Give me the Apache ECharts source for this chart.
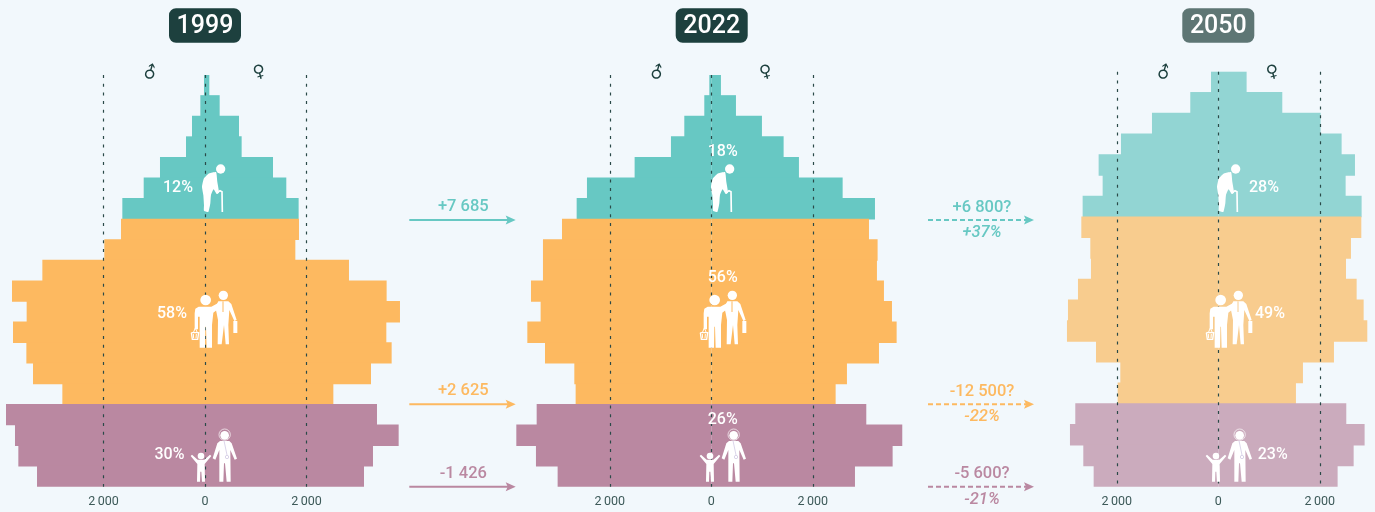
<!DOCTYPE html>
<html lang="en">
<head>
    <meta charset="UTF-8">
    <title>Pyramides</title>
    <script src="https://cdn.jsdelivr.net/npm/echarts@6/dist/echarts.min.js"></script>
    <style>
html,body{
    margin:0;
    padding:0;
    background:#f2f8fc;
}
#main{
    width:1375px;
    height:512px;
}
    </style>
</head>
<body>
<div id="main"></div>
<script type="text/javascript">
    // age groups, top of the pyramid first
    var ages = ['95-99','90-94','85-89','80-84','75-79','70-74','65-69','60-64','55-59','50-54','45-49','40-44','35-39','30-34','25-29','20-24','15-19','10-14','5-9','0-4'];
    var male1999 = [20,92,256,374,887,1208,1629,1655,1984,3205,3803,3514,3783,3520,3389,2811,3921,3744,3678,3310];
    var female1999 = [85,289,670,722,1340,1602,1845,1852,1780,2837,3579,3842,3573,3678,3271,2529,3389,3816,3310,3133];
    var male2022 = [39,138,532,795,1511,2450,2653,2942,3317,3317,3553,3363,3625,3277,2699,2673,3441,3842,3455,3028];
    var female2022 = [190,486,998,1425,1727,2588,3225,3107,3277,3264,3402,3560,3652,3304,2673,2450,3054,3763,3573,2831];
    var male2050 = [144,552,1307,1918,2358,2279,2673,2699,2522,2509,2765,2962,2982,2410,1931,1983,2818,2923,2660,2456];
    var female2050 = [558,1261,2016,2430,2693,2509,2824,2818,2614,2516,2726,2864,2936,2279,1668,1530,2522,2883,2667,2351];
    var tickLabels = {'-2000':'2\u2009000', '0':'0', '2000':'2\u2009000'};
    var years = ['1999','2022','2050'];
    var shares = [['12%','58%','30%'],['18%','56%','26%'],['28%','49%','23%']];
    var changes = ['+7 685','+2 625','-1 426'];
    var forecasts = ['+6 800?','-12 500?','-5 600?'];
    var forecastPct = ['+37%','-22%','-21%'];

    var bg = '#f2f8fc';
    var dark = '#1d403e';
    var teal = '#67c8c3', orange = '#fdb960', purple = '#ba88a1';
    var teal2 = '#92d5d3', orange2 = '#f8cc8e', purple2 = '#cbabbd';

    // one block per pyramid
    var panels = [
        {male:male1999, female:female1999, zero:205, top:75, height:411.7, colors:[teal,orange,purple], box:dark, boxX:169, dx:0, sexL:151, sexR:259.5,
         pos:[[178,187.5],[172,313.5],[169.5,455]]},
        {male:male2022, female:female2022, zero:711.3, top:75, height:411.7, colors:[teal,orange,purple], box:dark, boxX:675.7, dx:509, sexL:657.7, sexR:766,
         pos:[[722.7,151.5],[722.7,277.5],[722.7,419.5]]},
        {male:male2050, female:female2050, zero:1218.3, top:71.7, height:415, colors:[teal2,orange2,purple2], box:'#5e7674', boxX:1182.3, dx:1015, sexL:1164.3, sexR:1272.7,
         pos:[[1264,187.5],[1270,313.5],[1272.7,455]]}
    ];

    function barItems(values, colors, sign){
        return values.map(function(v, k){
            var c = k < 7 ? colors[0] : (k < 16 ? colors[1] : colors[2]);
            return {value:sign*v, itemStyle:{color:c}};
        });
    }

    var grids = [], xAxes = [], yAxes = [], series = [], graphics = [];

    function txt(s, x, y, font, fill, rot){
        return {type:'text', z:30, x:x, y:y, rotation:rot || 0, silent:true,
            style:{text:s, font:font, fill:fill, textAlign:'center', textVerticalAlign:'middle'}};
    }
    function white(shape, type){
        return {type:type, shape:shape, style:{fill:'#fff'}, z:20, silent:true};
    }
    function stroke(points, w, color){
        return {type:'polyline', shape:{points:points}, style:{stroke:color, lineWidth:w, fill:null}, z:21, silent:true};
    }

    // pictograms, drawn at 3x and scaled down
    function elder(dx){
        return {type:'group', x:dx, y:0, scaleX:1/3, scaleY:1/3, children:[
            white({cx:662,cy:507,r:14}, 'circle'),
            white({points:[[648,516],[628,520],[612,535],[606,560],[610,585],[612,615],[612,632],[625,636],[631,610],[633,585],[641,568],[650,582],[657,578],[652,545],[650,525]], smooth:0.15}, 'polygon'),
            stroke([[650,578],[660,572],[666,575],[667,636]], 5, '#fff')
        ]};
    }
    function couple(dx, tie){
        return {type:'group', x:dx, y:210, scaleX:1/3, scaleY:1/3, children:[
            white({cx:617,cy:270,r:16}, 'circle'),
            white({points:[[596,290],[634,290],[660,276],[668,286],[640,308],[636,345],[636,413],[620,413],[618,350],[616,350],[615,413],[599,413],[599,320],[594,320],[594,358],[584,358],[584,310],[586,296]]}, 'polygon'),
            stroke([[574,368],[596,368],[593,388],[577,388],[574,368]], 4, '#fff'),
            stroke([[580,368],[586,354],[592,368]], 3, '#fff'),
            stroke([[580,372],[581,385]], 3, '#fff'),
            stroke([[589,372],[588,385]], 3, '#fff'),
            white({cx:670,cy:256,r:14}, 'circle'),
            white({points:[[655,274],[685,274],[694,282],[710,330],[703,333],[688,300],[685,345],[687,403],[677,403],[672,345],[665,403],[653,403],[654,330],[650,310],[646,292]]}, 'polygon'),
            white({x:700,y:333,width:12,height:36}, 'rect'),
            stroke([[669,274],[669,306]], 3, tie)
        ]};
    }
    function family(dx, strap){
        return {type:'group', x:dx, y:210, scaleX:1/3, scaleY:1/3, children:[
            white({cx:674,cy:676,r:13}, 'circle'),
            {type:'circle', shape:{cx:674,cy:674,r:17}, style:{stroke:'#fff', lineWidth:2, fill:null}, z:20, silent:true},
            white({points:[[660,693],[688,693],[695,700],[711,746],[704,749],[691,720],[692,815],[680,815],[675,760],[672,760],[670,815],[658,815],[658,720],[646,749],[638,745],[652,700]]}, 'polygon'),
            stroke([[672,692],[681,735]], 2, strap),
            {type:'circle', shape:{cx:681,cy:741,r:5}, style:{stroke:strap, lineWidth:2, fill:null}, z:21, silent:true},
            white({cx:603,cy:738,r:10}, 'circle'),
            white({points:[[572,738],[576,734],[593,749],[613,749],[630,734],[634,738],[614,762],[615,815],[606,815],[604,785],[601,785],[600,815],[591,815],[592,762]]}, 'polygon')
        ]};
    }

    panels.forEach(function(pn, i){
        grids.push({left:pn.zero - 203, width:406, top:pn.top, height:pn.height, outerBoundsMode:'none'});
        xAxes.push({
            type:'value', gridIndex:i, min:-4000, max:4000, interval:2000, z:3,
            axisLine:{show:false},
            axisTick:{show:false},
            axisLabel:{
                margin:9, color:'#3d5a59', fontSize:12.5, fontFamily:'Roboto, sans-serif',
                formatter:function(v){ return tickLabels[v] || ''; }
            },
            splitLine:{
                show:true, showMinLine:false, showMaxLine:false,
                lineStyle:{color:'#2a4a48', width:1.2, type:[3,5.7]}
            }
        });
        yAxes.push({type:'category', gridIndex:i, data:ages, inverse:true, show:false});
        // bars slightly wider than the row, otherwise seams show between rows
        series.push({
            type:'bar', name:'Hommes '+years[i], xAxisIndex:i, yAxisIndex:i, stack:'p'+i, barWidth:'104%',
            silent:true,
            data:barItems(pn.male, pn.colors, -1)
        });
        series.push({
            type:'bar', name:'Femmes '+years[i], xAxisIndex:i, yAxisIndex:i, stack:'p'+i, barWidth:'104%',
            silent:true,
            data:barItems(pn.female, pn.colors, 1)
        });

        // year box
        graphics.push({type:'rect', z:20, silent:true, shape:{x:pn.boxX, y:8.3, width:72, height:34.4, r:7}, style:{fill:pn.box}});
        graphics.push(txt(years[i], pn.boxX+36, 26.8, '500 25px Roboto, sans-serif', '#fff'));
        // sexes
        graphics.push(txt('♂', pn.sexL, 73.5, '17px "DejaVu Sans"', dark, 0.52));
        graphics.push(txt('♀', pn.sexR, 72.5, '17px "DejaVu Sans"', dark, 0.26));
        // shares
        shares[i].forEach(function(s, k){
            graphics.push(txt(s, pn.pos[k][0], pn.pos[k][1], '500 16px Roboto, sans-serif', '#fff'));
        });
        graphics.push(elder(pn.dx));
        graphics.push(couple(pn.dx, pn.colors[1]));
        graphics.push(family(pn.dx, '#c9bfe0'));
    });

    // arrows between the pyramids
    var arrowY = [220, 404.3, 486.7];
    var arrowColors = [teal, orange, purple];
    function arrow(x1, x2, y, color, dash){
        graphics.push({type:'line', z:20, silent:true, shape:{x1:x1, y1:y, x2:x2-6, y2:y},
            style:{stroke:color, lineWidth:2, lineDash:dash}});
        graphics.push({type:'polygon', z:20, silent:true,
            shape:{points:[[x2,y],[x2-10,y-4.5],[x2-8,y],[x2-10,y+4.5]]}, style:{fill:color}});
    }
    arrowY.forEach(function(y, k){
        var c = arrowColors[k];
        arrow(409.3, 515.7, y, c, null);
        graphics.push(txt(changes[k], 463.3, y-13, '500 16.5px Roboto, sans-serif', c));
        arrow(928, 1034, y, c, [5,3]);
        graphics.push(txt(forecasts[k], 982, y-12.5, '500 16.5px Roboto, sans-serif', c));
        graphics.push(txt(forecastPct[k], 982, y+13, 'italic 500 16.5px Roboto, sans-serif', c));
    });

    var myChart = echarts.init(document.getElementById('main'));
    myChart.setOption({
        backgroundColor:bg,
        animation:false,
        grid:grids,
        xAxis:xAxes,
        yAxis:yAxes,
        series:series,
        graphic:{elements:graphics}
    });
</script>
</body>
</html>
